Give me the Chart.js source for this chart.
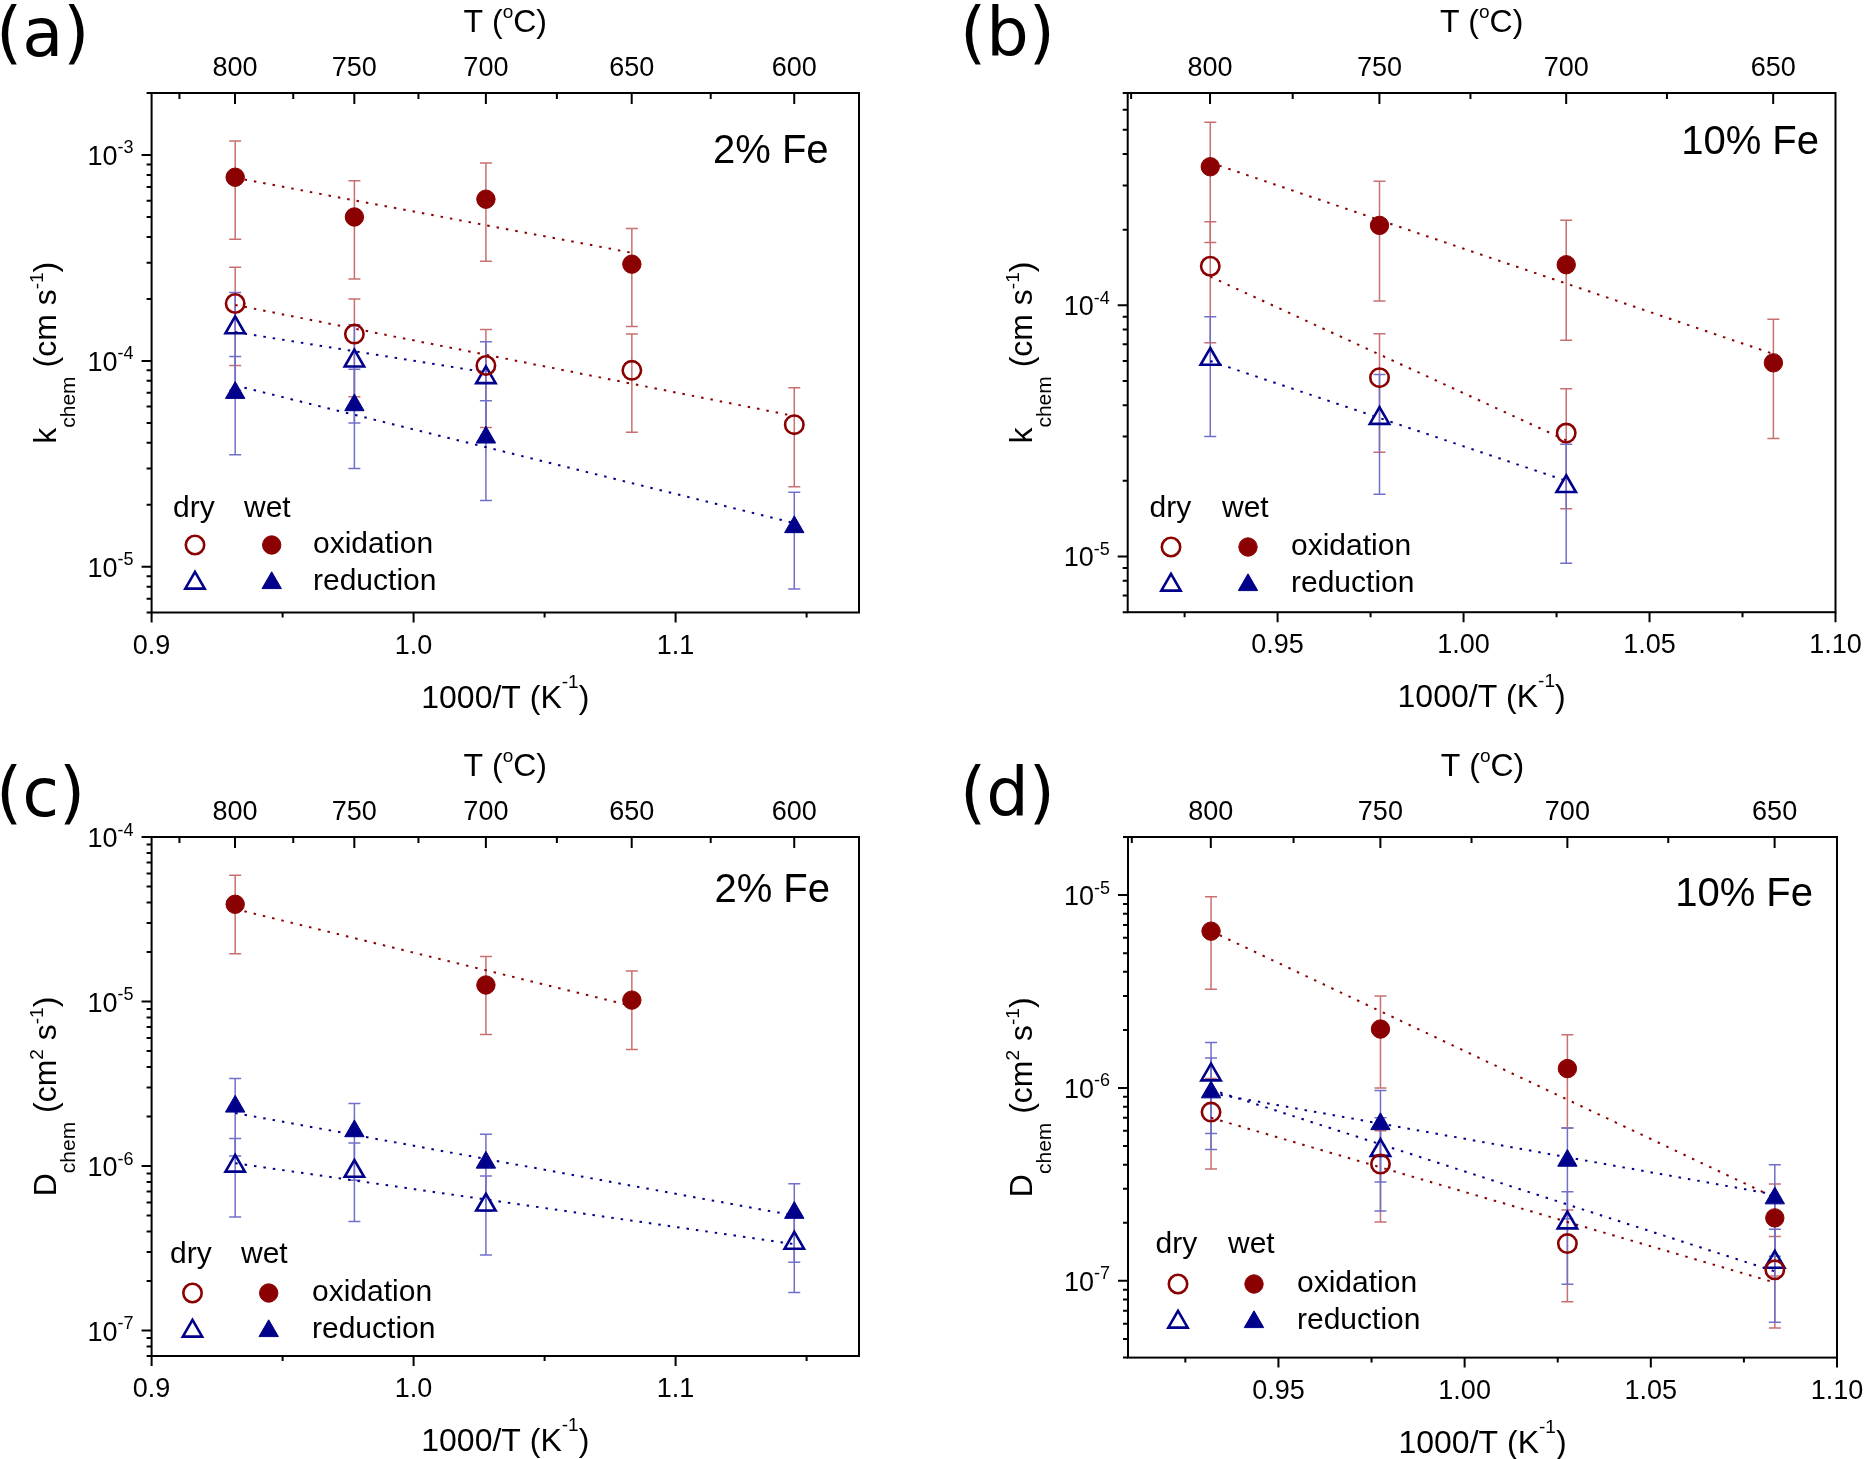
<!DOCTYPE html>
<html>
<head>
<meta charset="utf-8">
<script src="https://cdn.jsdelivr.net/npm/chart.js@4.4.1/dist/chart.umd.min.js"></script>
<style>
  html, body { margin: 0; padding: 0; background: #fff; }
  body { width: 1864px; height: 1459px; position: relative; overflow: hidden; }
  canvas { position: absolute; }
</style>
</head>
<body>
<canvas id="ca" width="932" height="730" style="left:0px;top:0px;width:932px;height:730px"></canvas>
<canvas id="cb" width="932" height="730" style="left:932px;top:0px;width:932px;height:730px"></canvas>
<canvas id="cc" width="932" height="729" style="left:0px;top:730px;width:932px;height:729px"></canvas>
<canvas id="cd" width="932" height="729" style="left:932px;top:730px;width:932px;height:729px"></canvas>
<script>
// ---------------- DATA ----------------
// x values are 1000/T (K^-1) for T = 800, 750, 700, 650, 600 °C

// (a) k_chem, 2% Fe
const aWetOx  = { x: [0.9319, 0.9774, 1.0276, 1.0833],
                  y: [7.8e-4, 5.0e-4, 6.1e-4, 2.95e-4],
                  lo: [3.9e-4, 2.5e-4, 3.05e-4, 1.47e-4],
                  hi: [1.17e-3, 7.5e-4, 9.15e-4, 4.4e-4] };
const aDryOx  = { x: [0.9319, 0.9774, 1.0276, 1.0833, 1.1453],
                  y: [1.9e-4, 1.35e-4, 9.5e-5, 9.0e-5, 4.9e-5],
                  lo: [9.5e-5, 6.7e-5, 4.75e-5, 4.5e-5, 2.45e-5],
                  hi: [2.85e-4, 2.0e-4, 1.42e-4, 1.35e-4, 7.4e-5] };
const aDryRed = { x: [0.9319, 0.9774, 1.0276],
                  y: [1.45e-4, 1.0e-4, 8.3e-5],
                  lo: [7.2e-5, 5.0e-5, 4.15e-5],
                  hi: [2.15e-4, 1.5e-4, 1.24e-4] };
const aWetRed = { x: [0.9319, 0.9774, 1.0276, 1.1453],
                  y: [7.0e-5, 6.1e-5, 4.25e-5, 1.56e-5],
                  lo: [3.5e-5, 3.0e-5, 2.1e-5, 7.8e-6],
                  hi: [1.05e-4, 9.1e-5, 6.4e-5, 2.3e-5] };
const aFitWetOx  = [[0.9319, 7.75e-4], [1.0833, 3.35e-4]];
const aFitDryOx  = [[0.9319, 1.87e-4], [1.1453, 5.4e-5]];
const aFitDryRed = [[0.9319, 1.38e-4], [1.0276, 8.8e-5]];
const aFitWetRed = [[0.9319, 7.6e-5], [1.1453, 1.63e-5]];

// (b) k_chem, 10% Fe
const bWetOx  = { x: [0.9319, 0.9774, 1.0276, 1.0833],
                  y: [3.56e-4, 2.08e-4, 1.45e-4, 5.9e-5],
                  lo: [1.78e-4, 1.04e-4, 7.25e-5, 2.95e-5],
                  hi: [5.35e-4, 3.12e-4, 2.18e-4, 8.8e-5] };
const bDryOx  = { x: [0.9319, 0.9774, 1.0276],
                  y: [1.43e-4, 5.15e-5, 3.1e-5],
                  lo: [7.1e-5, 2.6e-5, 1.55e-5],
                  hi: [2.15e-4, 7.7e-5, 4.65e-5] };
const bDryRed = { x: [0.9319, 0.9774, 1.0276],
                  y: [6.1e-5, 3.55e-5, 1.9e-5],
                  lo: [3.0e-5, 1.77e-5, 9.4e-6],
                  hi: [9.0e-5, 5.3e-5, 2.8e-5] };
const bFitWetOx  = [[0.9319, 3.7e-4], [1.0833, 6.4e-5]];
const bFitDryOx  = [[0.9319, 1.3e-4], [1.0276, 2.9e-5]];
const bFitDryRed = [[0.9319, 6.0e-5], [1.0276, 2.0e-5]];

// (c) D_chem, 2% Fe
const cWetOx  = { x: [0.9319, 1.0276, 1.0833],
                  y: [3.9e-5, 1.26e-5, 1.02e-5],
                  lo: [1.95e-5, 6.3e-6, 5.1e-6],
                  hi: [5.85e-5, 1.88e-5, 1.53e-5] };
const cWetRed = { x: [0.9319, 0.9774, 1.0276, 1.1453],
                  y: [2.3e-6, 1.63e-6, 1.05e-6, 5.2e-7],
                  lo: [1.15e-6, 8.2e-7, 5.3e-7, 2.6e-7],
                  hi: [3.4e-6, 2.4e-6, 1.56e-6, 7.8e-7] };
const cDryRed = { x: [0.9319, 0.9774, 1.0276, 1.1453],
                  y: [1.0e-6, 9.3e-7, 5.8e-7, 3.4e-7],
                  lo: [4.9e-7, 4.6e-7, 2.88e-7, 1.7e-7],
                  hi: [1.47e-6, 1.38e-6, 8.7e-7, 5.1e-7] };
const cFitWetOx  = [[0.9319, 3.65e-5], [1.0833, 9.4e-6]];
const cFitWetRed = [[0.9319, 2.1e-6], [1.1453, 5.0e-7]];
const cFitDryRed = [[0.9319, 1.04e-6], [1.1453, 3.35e-7]];

// (d) D_chem, 10% Fe
const dWetOx  = { x: [0.9319, 0.9774, 1.0276, 1.0833],
                  y: [6.5e-6, 2.02e-6, 1.26e-6, 2.12e-7],
                  lo: [3.25e-6, 1.0e-6, 6.2e-7, 1.06e-7],
                  hi: [9.8e-6, 3.0e-6, 1.89e-6, 3.18e-7] };
const dDryOx  = { x: [0.9319, 0.9774, 1.0276, 1.0833],
                  y: [7.5e-7, 4.03e-7, 1.56e-7, 1.14e-7],
                  lo: [3.8e-7, 2.02e-7, 7.8e-8, 5.7e-8],
                  hi: [1.12e-6, 6.0e-7, 2.33e-7, 1.7e-7] };
const dDryRed = { x: [0.9319, 0.9774, 1.0276, 1.0833],
                  y: [1.17e-6, 4.75e-7, 2.0e-7, 1.25e-7],
                  lo: [5.8e-7, 2.3e-7, 9.6e-8, 6.1e-8],
                  hi: [1.72e-6, 7.0e-7, 2.9e-7, 1.85e-7] };
const dWetRed = { x: [0.9319, 0.9774, 1.0276, 1.0833],
                  y: [9.5e-7, 6.5e-7, 4.2e-7, 2.68e-7],
                  lo: [4.8e-7, 3.25e-7, 2.1e-7, 1.34e-7],
                  hi: [1.43e-6, 9.7e-7, 6.2e-7, 4.0e-7] };
const dFitWetOx  = [[0.9319, 6.5e-6], [1.0833, 2.7e-7]];
const dFitDryOx  = [[0.9319, 7.0e-7], [1.0833, 9.8e-8]];
const dFitDryRed = [[0.9319, 9.8e-7], [1.0833, 1.12e-7]];
const dFitWetRed = [[0.9319, 9.4e-7], [1.0833, 2.8e-7]];

// ---------------- TICKS ----------------
const xMajorAC = [0.9, 1.0, 1.1];
const xMajorLabelsAC = ['0.9', '1.0', '1.1'];
const xMinorAC = [0.95, 1.05, 1.15];
const xMajorBD = [0.95, 1.00, 1.05, 1.10];
const xMajorLabelsBD = ['0.95', '1.00', '1.05', '1.10'];
const xMinorBD = [0.925, 0.975, 1.025, 1.075];
const tMajorAC = [800, 750, 700, 650, 600];
const tMinorAC = [825, 775, 725, 675, 625];
const tMajorBD = [800, 750, 700, 650];
const tMinorBD = [825, 775, 725, 675];
const yExpA = [-5, -4, -3];
const yExpB = [-5, -4];
const yExpC = [-7, -6, -5, -4];
const yExpD = [-7, -6, -5];

// ---------------- STYLE ----------------
const FONT = "'Liberation Sans', Arial, Helvetica, sans-serif";
const LABEL_FONT = "'DejaVu Sans', 'Liberation Sans', sans-serif";
const RED = '#8b0000', BLUE = '#00008b';
const RED_ERR = '#c87070', BLUE_ERR = '#7070c8';

const kTitle = [{t: 'k', s: 32}, {t: 'chem', s: 21, dy: 19}, {t: ' (cm s', s: 32}, {t: '-1', s: 19, dy: -13}, {t: ')', s: 32}];
const dTitle = [{t: 'D', s: 32}, {t: 'chem', s: 21, dy: 19}, {t: ' (cm', s: 32}, {t: '2', s: 19, dy: -13}, {t: ' s', s: 32}, {t: '-1', s: 19, dy: -13}, {t: ')', s: 32}];
const xTitle = [{t: '1000/T (K', s: 32}, {t: '-1', s: 19, dy: -20}, {t: ')', s: 32}];
const tTitle = [{t: 'T (', s: 32}, {t: 'o', s: 19, dy: -14}, {t: 'C)', s: 32}];

const PANELS = {
  ca: { off: [0, 0], pad: {left: 151.6, top: 93, right: 73, bottom: 117.5},
        xr: [0.9, 1.17], yr: [6e-6, 2e-3],
        xMajor: xMajorAC, xLab: xMajorLabelsAC, xMinor: xMinorAC, tMajor: tMajorAC, tMinor: tMinorAC, yExp: yExpA,
        yTitle: kTitle, label: '(a)', labPos: [-4, 56], fe: '2% Fe', fePos: [828.6, 163],
        leg: {dry: 173, wet: 244, c1: 195, c2: 271.7, tx: 313, hy: 509, oy: 545, ry: 582},
        series: [ {d: aWetOx, k: 'ox', wet: true}, {d: aDryOx, k: 'ox', wet: false},
                  {d: aDryRed, k: 'red', wet: false}, {d: aWetRed, k: 'red', wet: true} ],
        fits: [ {p: aFitWetOx, c: RED}, {p: aFitDryOx, c: RED}, {p: aFitDryRed, c: BLUE}, {p: aFitWetRed, c: BLUE} ] },
  cb: { off: [932, 0], pad: {left: 195.7, top: 93, right: 28.5, bottom: 117.8},
        xr: [0.9097, 1.10], yr: [6e-6, 7e-4],
        xMajor: xMajorBD, xLab: xMajorLabelsBD, xMinor: xMinorBD, tMajor: tMajorBD, tMinor: tMinorBD, yExp: yExpB,
        yTitle: kTitle, label: '(b)', labPos: [960, 56], fe: '10% Fe', fePos: [1819, 154],
        leg: {dry: 1149.5, wet: 1222, c1: 1171, c2: 1248, tx: 1291, hy: 509, oy: 547, ry: 584},
        series: [ {d: bWetOx, k: 'ox', wet: true}, {d: bDryOx, k: 'ox', wet: false},
                  {d: bDryRed, k: 'red', wet: false} ],
        fits: [ {p: bFitWetOx, c: RED}, {p: bFitDryOx, c: RED}, {p: bFitDryRed, c: BLUE} ] },
  cc: { off: [0, 730], pad: {left: 151.6, top: 107, right: 73, bottom: 103},
        xr: [0.9, 1.17], yr: [7e-8, 1e-4],
        xMajor: xMajorAC, xLab: xMajorLabelsAC, xMinor: xMinorAC, tMajor: tMajorAC, tMinor: tMinorAC, yExp: yExpC,
        yTitle: dTitle, label: '(c)', labPos: [-4, 816], fe: '2% Fe', fePos: [830, 902],
        leg: {dry: 170, wet: 241, c1: 192.5, c2: 268.7, tx: 312, hy: 1255, oy: 1293, ry: 1330},
        series: [ {d: cWetOx, k: 'ox', wet: true}, {d: cWetRed, k: 'red', wet: true},
                  {d: cDryRed, k: 'red', wet: false} ],
        fits: [ {p: cFitWetOx, c: RED}, {p: cFitWetRed, c: BLUE}, {p: cFitDryRed, c: BLUE} ] },
  cd: { off: [932, 730], pad: {left: 196, top: 107, right: 27, bottom: 101.4},
        xr: [0.9096, 1.10], yr: [4e-8, 2e-5],
        xMajor: xMajorBD, xLab: xMajorLabelsBD, xMinor: xMinorBD, tMajor: tMajorBD, tMinor: tMinorBD, yExp: yExpD,
        yTitle: dTitle, label: '(d)', labPos: [960, 816], fe: '10% Fe', fePos: [1813, 906],
        leg: {dry: 1155.5, wet: 1228, c1: 1178, c2: 1254, tx: 1297, hy: 1245, oy: 1284, ry: 1321},
        series: [ {d: dWetOx, k: 'ox', wet: true}, {d: dDryOx, k: 'ox', wet: false},
                  {d: dDryRed, k: 'red', wet: false}, {d: dWetRed, k: 'red', wet: true} ],
        fits: [ {p: dFitWetOx, c: RED}, {p: dFitDryOx, c: RED}, {p: dFitDryRed, c: BLUE}, {p: dFitWetRed, c: BLUE} ] }
};

// ---------------- HELPERS ----------------
function drawRich(ctx, parts, x, y, align) {
  let w = 0;
  parts.forEach(p => { ctx.font = p.s + 'px ' + FONT; p.w = ctx.measureText(p.t).width; w += p.w; });
  let cx = align === 'center' ? x - w / 2 : (align === 'right' ? x - w : x);
  ctx.textAlign = 'left';
  ctx.textBaseline = 'alphabetic';
  parts.forEach(p => { ctx.font = p.s + 'px ' + FONT; ctx.fillText(p.t, cx, y + (p.dy || 0)); cx += p.w; });
}

const CIRCLE_R = 9.2, TRI_R = 11.2;

function drawMarker(ctx, kind, wet, x, y) {
  const col = kind === 'ox' ? RED : BLUE;
  ctx.beginPath();
  if (kind === 'ox') {
    ctx.arc(x, y, CIRCLE_R, 0, Math.PI * 2);
  } else {
    const r = TRI_R;
    ctx.moveTo(x, y - r);
    ctx.lineTo(x + 0.866 * r, y + 0.5 * r);
    ctx.lineTo(x - 0.866 * r, y + 0.5 * r);
    ctx.closePath();
  }
  ctx.strokeStyle = col;
  ctx.fillStyle = col;
  if (wet) { ctx.fill(); ctx.lineWidth = 1; ctx.stroke(); }
  else { ctx.lineWidth = 2.6; ctx.stroke(); }
}

const tToX = t => 1000 / (t + 273.15);

const decoPlugin = {
  id: 'deco',
  beforeDatasetsDraw(chart) {
    const P = PANELS[chart.canvas.id];
    const ctx = chart.ctx, xs = chart.scales.x, ys = chart.scales.y;
    ctx.save();
    ctx.lineWidth = 1.5;
    P.series.forEach(S => {
      ctx.strokeStyle = S.k === 'ox' ? RED_ERR : BLUE_ERR;
      ctx.beginPath();
      S.d.x.forEach((xv, i) => {
        const px = xs.getPixelForValue(xv);
        const yl = ys.getPixelForValue(S.d.lo[i]);
        const yh = ys.getPixelForValue(S.d.hi[i]);
        ctx.moveTo(px, yl); ctx.lineTo(px, yh);
        ctx.moveTo(px - 6, yl); ctx.lineTo(px + 6, yl);
        ctx.moveTo(px - 6, yh); ctx.lineTo(px + 6, yh);
      });
      ctx.stroke();
    });
    ctx.restore();
  },
  afterDraw(chart) {
    const P = PANELS[chart.canvas.id];
    const ctx = chart.ctx, a = chart.chartArea, xs = chart.scales.x, ys = chart.scales.y;
    const ox = P.off[0], oy = P.off[1];
    ctx.save();
    ctx.strokeStyle = '#000';
    ctx.fillStyle = '#000';
    ctx.lineWidth = 2;
    ctx.strokeRect(a.left, a.top, a.right - a.left, a.bottom - a.top);

    ctx.beginPath();
    // bottom axis (outward)
    P.xMajor.forEach(v => { const px = xs.getPixelForValue(v); ctx.moveTo(px, a.bottom); ctx.lineTo(px, a.bottom + 10); });
    P.xMinor.forEach(v => { const px = xs.getPixelForValue(v); ctx.moveTo(px, a.bottom); ctx.lineTo(px, a.bottom + 5); });
    // top axis (inward)
    P.tMajor.forEach(t => { const px = xs.getPixelForValue(tToX(t)); ctx.moveTo(px, a.top); ctx.lineTo(px, a.top + 11); });
    P.tMinor.forEach(t => { const px = xs.getPixelForValue(tToX(t)); ctx.moveTo(px, a.top); ctx.lineTo(px, a.top + 6); });
    // left axis (outward)
    const lo = Math.floor(Math.log10(P.yr[0])), hi = Math.ceil(Math.log10(P.yr[1]));
    for (let d = lo; d <= hi; d++) {
      for (let m = 1; m <= 9; m++) {
        const v = m * Math.pow(10, d);
        if (v < P.yr[0] * 0.999 || v > P.yr[1] * 1.001) continue;
        const py = ys.getPixelForValue(v);
        ctx.moveTo(a.left - (m === 1 ? 10 : 5), py); ctx.lineTo(a.left, py);
      }
    }
    ctx.stroke();

    // tick labels
    ctx.font = '27px ' + FONT;
    ctx.textAlign = 'center';
    ctx.textBaseline = 'alphabetic';
    P.xMajor.forEach((v, i) => ctx.fillText(P.xLab[i], xs.getPixelForValue(v), a.bottom + 41));
    P.tMajor.forEach(t => ctx.fillText(String(t), xs.getPixelForValue(tToX(t)), a.top - 17));
    P.yExp.forEach(e => {
      const py = ys.getPixelForValue(Math.pow(10, e));
      const sup = String(e);
      ctx.font = '27px ' + FONT; const w1 = ctx.measureText('10').width;
      ctx.font = '18px ' + FONT; const w2 = ctx.measureText(sup).width;
      const x0 = a.left - 18 - w2 - w1;
      ctx.textAlign = 'left';
      ctx.font = '27px ' + FONT; ctx.fillText('10', x0, py + 10);
      ctx.font = '18px ' + FONT; ctx.fillText(sup, x0 + w1, py - 1.5);
    });

    // axis titles
    const cx = (a.left + a.right) / 2, cy = (a.top + a.bottom) / 2;
    drawRich(ctx, xTitle, cx, a.bottom + 95, 'center');
    drawRich(ctx, tTitle, cx, a.top - 61, 'center');
    ctx.save();
    ctx.translate(a.left - 96, cy);
    ctx.rotate(-Math.PI / 2);
    drawRich(ctx, P.yTitle, 0, 0, 'center');
    ctx.restore();

    // composition label
    ctx.font = '40px ' + FONT;
    ctx.textAlign = 'right';
    ctx.textBaseline = 'alphabetic';
    ctx.fillText(P.fe, P.fePos[0] - ox, P.fePos[1] - oy);

    // panel label
    ctx.font = '67px ' + LABEL_FONT;
    ctx.textAlign = 'left';
    ctx.textBaseline = 'alphabetic';
    ctx.fillText(P.label, P.labPos[0] - ox, P.labPos[1] - oy);

    // legend
    const L = P.leg;
    ctx.font = '30px ' + FONT;
    ctx.textAlign = 'left';
    ctx.textBaseline = 'alphabetic';
    ctx.fillText('dry', L.dry - ox, L.hy - oy + 8);
    ctx.fillText('wet', L.wet - ox, L.hy - oy + 8);
    ctx.fillText('oxidation', L.tx - ox, L.oy - oy + 8);
    ctx.fillText('reduction', L.tx - ox, L.ry - oy + 8);
    drawMarker(ctx, 'ox', false, L.c1 - ox, L.oy - oy);
    drawMarker(ctx, 'ox', true, L.c2 - ox, L.oy - oy);
    drawMarker(ctx, 'red', false, L.c1 - ox, L.ry - oy + 1);
    drawMarker(ctx, 'red', true, L.c2 - ox, L.ry - oy + 1);
    ctx.restore();
  }
};

function buildDatasets(P) {
  const ds = [];
  P.series.forEach(S => {
    const col = S.k === 'ox' ? RED : BLUE;
    ds.push({
      type: 'scatter',
      data: S.d.x.map((xv, i) => ({x: xv, y: S.d.y[i]})),
      pointStyle: S.k === 'ox' ? 'circle' : 'triangle',
      pointRadius: S.k === 'ox' ? CIRCLE_R : TRI_R,
      pointBorderWidth: S.wet ? 1 : 2.6,
      pointBackgroundColor: S.wet ? col : 'rgba(0,0,0,0)',
      pointBorderColor: col,
      showLine: false,
      order: 0
    });
  });
  P.fits.forEach(F => {
    ds.push({
      type: 'line',
      data: F.p.map(p => ({x: p[0], y: p[1]})),
      borderColor: F.c,
      borderWidth: 2,
      borderDash: [2.5, 7],
      pointRadius: 0,
      fill: false,
      tension: 0,
      order: 1
    });
  });
  return ds;
}

Object.keys(PANELS).forEach(id => {
  const P = PANELS[id];
  new Chart(document.getElementById(id), {
    type: 'scatter',
    data: { datasets: buildDatasets(P) },
    options: {
      responsive: false,
      animation: false,
      devicePixelRatio: 1,
      events: [],
      layout: { padding: P.pad },
      plugins: { legend: { display: false }, tooltip: { enabled: false } },
      scales: {
        x: { type: 'linear', min: P.xr[0], max: P.xr[1], display: false },
        y: { type: 'logarithmic', min: P.yr[0], max: P.yr[1], display: false }
      }
    },
    plugins: [decoPlugin]
  });
});
</script>
</body>
</html>
